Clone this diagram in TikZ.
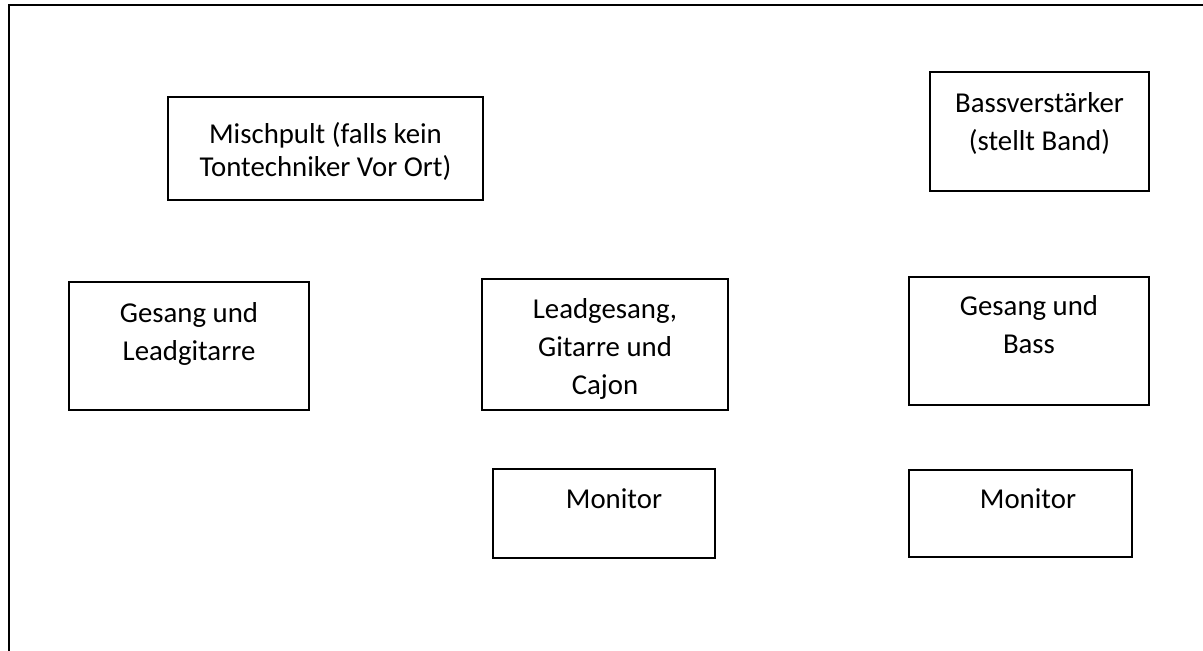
\documentclass[tikz,border=0pt]{standalone}
\usepackage{fontspec}
\setmainfont{Carlito}
\usetikzlibrary{positioning}
\begin{document}
\begin{tikzpicture}[x=0.5pt,y=-0.5pt,
  box/.style={draw, line width=1pt, rectangle, anchor=north west, inner sep=0pt, outer sep=0pt},
  txt/.style={anchor=north, inner sep=0pt, align=center, font=\fontsize{14.4}{19}\selectfont}]
\useasboundingbox (0,0) rectangle (1203,651);
\draw[line width=1.3pt] (9,660) -- (9,5) -- (1210,5);

% stage boxes
\node[box, minimum width=157.5pt, minimum height=51.5pt] (mix) at (168,97) {};
\node[box, minimum width=109.5pt, minimum height=59.5pt] (amp) at (930,72) {};
\node[box, minimum width=120pt, minimum height=64pt] (voxL) at (69,282) {};
\node[box, minimum width=123pt, minimum height=65.5pt] (lead) at (482,279) {};
\node[box, minimum width=120pt, minimum height=64pt] (voxB) at (909,277) {};
\node[box, minimum width=111pt, minimum height=44.5pt] (monC) at (493,469) {};
\node[box, minimum width=111.5pt, minimum height=43.5pt] (monR) at (909,470) {};

\node[txt, font=\fontsize{14.4}{16.5}\selectfont, below=11.3pt of mix.north] (mixtext) {\strut Mischpult (falls kein\\Tontechniker Vor Ort)};
\node[txt, below=6.7pt of amp.north] (amptext) {\strut Bassverstärker\\(stellt Band)};
\node[txt, below=6.55pt of voxL.north] (voxLtext) {\strut Gesang und\\Leadgitarre};
\node[txt, below=6.35pt of lead.north] (leadtext) {\strut Leadgesang,\\Gitarre und\\Cajon};
\node[txt, below=5.7pt of voxB.north] (voxBtext) {\strut Gesang und\\Bass};
\node[txt, below=6.35pt of monC.north, xshift=5pt] (monCtext) {\strut Monitor};
\node[txt, below=5.85pt of monR.north, xshift=3.75pt] (monRtext) {\strut Monitor};
\end{tikzpicture}
\end{document}
